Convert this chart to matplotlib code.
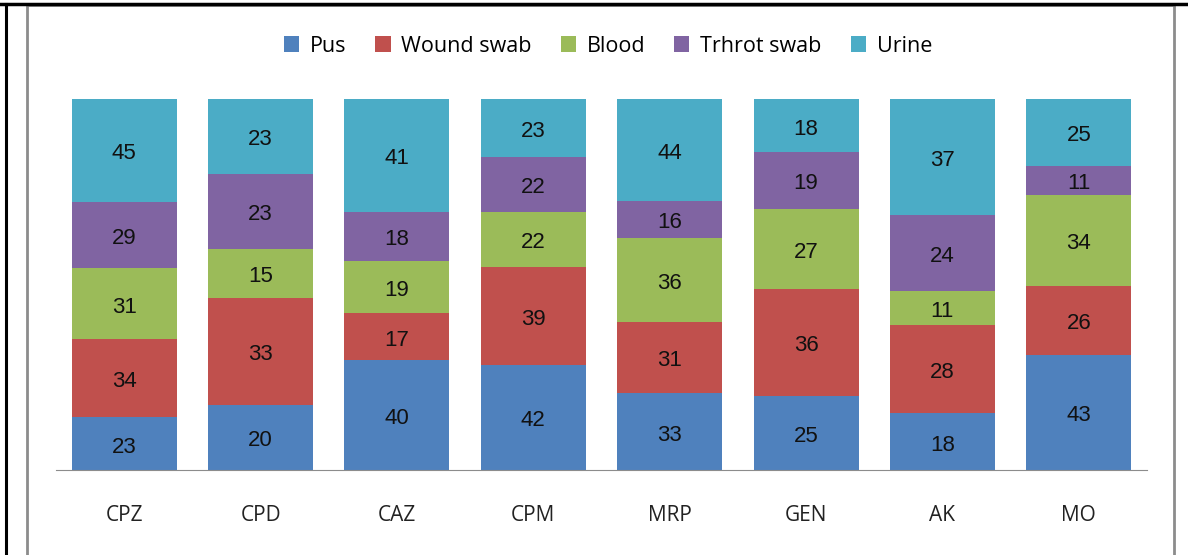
import numpy as np
import matplotlib
matplotlib.use('Agg')
import matplotlib.pyplot as plt
from matplotlib.lines import Line2D
from matplotlib.patches import Rectangle

drugs = ['CPZ', 'CPD', 'CAZ', 'CPM', 'MRP', 'GEN', 'AK', 'MO']
pus = [23, 20, 40, 42, 33, 25, 18, 43]
wound = [34, 33, 17, 39, 31, 36, 28, 26]
blood = [31, 15, 19, 22, 36, 27, 11, 34]
throat = [29, 23, 18, 22, 16, 19, 24, 11]
urine = [45, 23, 41, 23, 44, 18, 37, 25]

series = [('Pus', pus, '#4F81BD'),
          ('Wound swab', wound, '#C0504D'),
          ('Blood', blood, '#9BBB59'),
          ('Trhrot swab', throat, '#8064A2'),
          ('Urine', urine, '#4BACC6')]

W, H = 1188, 555
fig = plt.figure(figsize=(W / 100, H / 100), dpi=100)
ax = fig.add_axes([56 / W, 1 - 470 / H, (1147 - 56) / W, (470 - 99) / H])

totals = np.sum([s[1] for s in series], axis=0)
x = np.arange(len(drugs))
bottom = np.zeros(len(drugs))
for name, vals, col in series:
    pct = np.array(vals) / totals * 100
    ax.bar(x, pct, 0.77, bottom=bottom, color=col, label=name)
    for xi, b, p, v in zip(x, bottom, pct, vals):
        ax.text(xi, b + p / 2 - 0.9, str(v), ha='center', va='center',
                fontsize=16, family='Liberation Sans', color='#111111')
    bottom += pct

ax.set_xlim(-0.5, len(drugs) - 0.5)
ax.set_ylim(0, 100)
ax.set_yticks([])
for s in ['top', 'right', 'left']:
    ax.spines[s].set_visible(False)
ax.spines['bottom'].set_color('#8c8c8c')
ax.set_xticks(x)
ax.set_xticklabels(drugs, fontsize=15, family='Open Sans', color='#222222')
ax.tick_params(axis='x', length=0, pad=25)

ax.legend(loc='center', bbox_to_anchor=(608 / W, 1 - 46 / H),
          bbox_transform=fig.transFigure, ncol=5, frameon=False,
          prop={'family': 'Open Sans', 'size': 15.5}, handlelength=0.7,
          handleheight=0.7, handletextpad=0.5, columnspacing=1.35)

# chart frame and page borders
fig.add_artist(Rectangle((27 / W, -0.01), (1174 - 27) / W, 1 - 5 / H + 0.01,
                         transform=fig.transFigure, fill=False,
                         edgecolor='#8c8c8c', linewidth=2))
fig.add_artist(Line2D([0, 1], [1 - 4 / H, 1 - 4 / H], color='black',
                      linewidth=2.5, transform=fig.transFigure))
fig.add_artist(Line2D([6 / W, 6 / W], [0, 1 - 4 / H], color='black',
                      linewidth=2.2, transform=fig.transFigure))

fig.savefig('out.png', dpi=100)
